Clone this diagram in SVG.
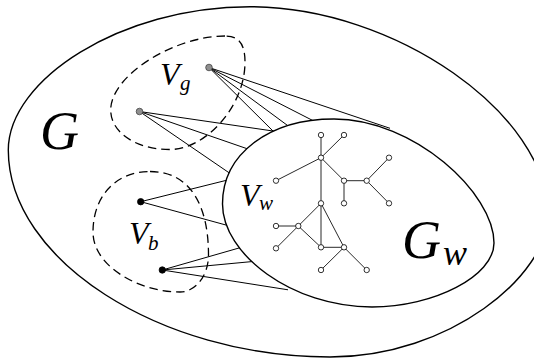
<svg xmlns="http://www.w3.org/2000/svg" width="534" height="359" viewBox="0 0 534 359">
<style>
.reg{fill:none;stroke:#000;stroke-width:1.4}
.dash{fill:none;stroke:#000;stroke-width:1.3;stroke-dasharray:8.5 5}
.e{stroke:#000;stroke-width:1;fill:none}
.t{stroke:#111;stroke-width:0.9;fill:none}
.tn{fill:#fff;stroke:#000;stroke-width:0.8}
.gn{fill:#8f8f8f;stroke:#444;stroke-width:0.8}
.bn{fill:#000;stroke:#000;stroke-width:0.8}
.lbl{font-family:"Liberation Serif","Times New Roman",serif;font-style:italic;fill:#000}
</style>
<rect width="534" height="359" fill="#fff"/>
<g id="G">
<path class="reg" d="M 8.3 150 C 8.3 80, 120 6.7, 250 6.7 C 395 6.7, 548 114, 548 215 C 548 275, 450 357, 330 357 C 160 357, 8.3 260, 8.3 150 Z"/>
<text class="lbl" x="40" y="148.5" font-size="54">G</text>
</g>
<g id="Vg">
<path class="dash" d="M 225 36 C 175 36, 110.7 75, 110.7 110 C 110.7 132, 135 149.5, 170 149.5 C 205 149.5, 245 107, 245 62 C 245 44, 239 36, 225 36 Z"/>
<text class="lbl" x="160" y="85" font-size="32">V</text>
<text class="lbl" x="180" y="90" font-size="21">g</text>
</g>
<g id="Vb">
<path class="dash" d="M 150 171.5 C 190 171.5, 208.5 205, 208.5 255 C 208.5 275, 196 292, 180 292 C 140 292, 93 267, 93 232 C 93 197, 115 171.5, 150 171.5 Z"/>
<text class="lbl" x="129" y="243.5" font-size="32">V</text>
<text class="lbl" x="148" y="250" font-size="21">b</text>
</g>
<g id="connectors">
<line class="e" x1="209" y1="67.5" x2="390" y2="128.3"/>
<line class="e" x1="209" y1="67.5" x2="315.3" y2="121.8"/>
<line class="e" x1="209" y1="67.5" x2="291.5" y2="128.4"/>
<line class="e" x1="209" y1="67.5" x2="275.8" y2="133.8"/>
<line class="e" x1="139.5" y1="111.5" x2="277" y2="131.6"/>
<line class="e" x1="139.5" y1="111.5" x2="248.8" y2="149.3"/>
<line class="e" x1="139.5" y1="111.5" x2="231.3" y2="174.3"/>
<line class="e" x1="140.7" y1="201.7" x2="228.9" y2="179.7"/>
<line class="e" x1="140.7" y1="201.7" x2="229.9" y2="226.1"/>
<line class="e" x1="162.3" y1="270" x2="241.8" y2="247.2"/>
<line class="e" x1="162.3" y1="270" x2="255" y2="261.3"/>
<line class="e" x1="162.3" y1="270" x2="288" y2="289.8"/>
</g>
<g id="Gw">
<path class="reg" style="fill:#fff" d="M 222.5 204 C 222.5 154, 269 119, 334 119 C 414 119, 494 193, 494 243 C 494 276, 434 307, 372 307 C 292 307, 222.5 254, 222.5 204 Z"/>
<text class="lbl" x="402" y="258" font-size="54">G</text>
<text class="lbl" x="443" y="265" font-size="36">w</text>
</g>
<g id="Vw">
<text class="lbl" x="240" y="206" font-size="32">V</text>
<text class="lbl" x="259" y="210" font-size="21">w</text>
</g>
<g id="tree-edges">
<line class="t" x1="321" y1="135" x2="321" y2="247.3"/>
<line class="t" x1="344" y1="135" x2="321" y2="157.7"/>
<line class="t" x1="321" y1="157.7" x2="276" y2="180.7"/>
<line class="t" x1="321" y1="157.7" x2="344" y2="180.7"/>
<line class="t" x1="344" y1="180.7" x2="366.7" y2="180.7"/>
<line class="t" x1="366.7" y1="180.7" x2="389" y2="157.7"/>
<line class="t" x1="366.7" y1="180.7" x2="389" y2="203.3"/>
<line class="t" x1="344" y1="180.7" x2="344" y2="203.3"/>
<line class="t" x1="321" y1="203.3" x2="298.3" y2="226"/>
<line class="t" x1="321" y1="203.3" x2="344" y2="247.3"/>
<line class="t" x1="276" y1="226" x2="298.3" y2="226"/>
<line class="t" x1="298.3" y1="226" x2="276" y2="248.3"/>
<line class="t" x1="298.3" y1="226" x2="321" y2="247.3"/>
<line class="t" x1="321" y1="247.3" x2="344" y2="247.3"/>
<line class="t" x1="344" y1="247.3" x2="321" y2="270"/>
<line class="t" x1="344" y1="247.3" x2="366.7" y2="270"/>
</g>
<g id="tree-nodes">
<circle class="tn" cx="321" cy="135" r="2.7"/>
<circle class="tn" cx="344" cy="135" r="2.7"/>
<circle class="tn" cx="321" cy="157.7" r="2.7"/>
<circle class="tn" cx="276" cy="180.7" r="2.7"/>
<circle class="tn" cx="344" cy="180.7" r="2.7"/>
<circle class="tn" cx="366.7" cy="180.7" r="2.7"/>
<circle class="tn" cx="389" cy="157.7" r="2.7"/>
<circle class="tn" cx="344" cy="203.3" r="2.7"/>
<circle class="tn" cx="389" cy="203.3" r="2.7"/>
<circle class="tn" cx="321" cy="203.3" r="2.7"/>
<circle class="tn" cx="276" cy="226" r="2.7"/>
<circle class="tn" cx="298.3" cy="226" r="2.7"/>
<circle class="tn" cx="276" cy="248.3" r="2.7"/>
<circle class="tn" cx="321" cy="247.3" r="2.7"/>
<circle class="tn" cx="344" cy="247.3" r="2.7"/>
<circle class="tn" cx="321" cy="270" r="2.7"/>
<circle class="tn" cx="366.7" cy="270" r="2.7"/>
</g>
<g id="vg-nodes">
<circle class="gn" cx="209" cy="67.5" r="3.3"/>
<circle class="gn" cx="139.5" cy="111.5" r="3.3"/>
</g>
<g id="vb-nodes">
<circle class="bn" cx="140.7" cy="201.7" r="3.2"/>
<circle class="bn" cx="162.3" cy="270" r="3.2"/>
</g>
</svg>
